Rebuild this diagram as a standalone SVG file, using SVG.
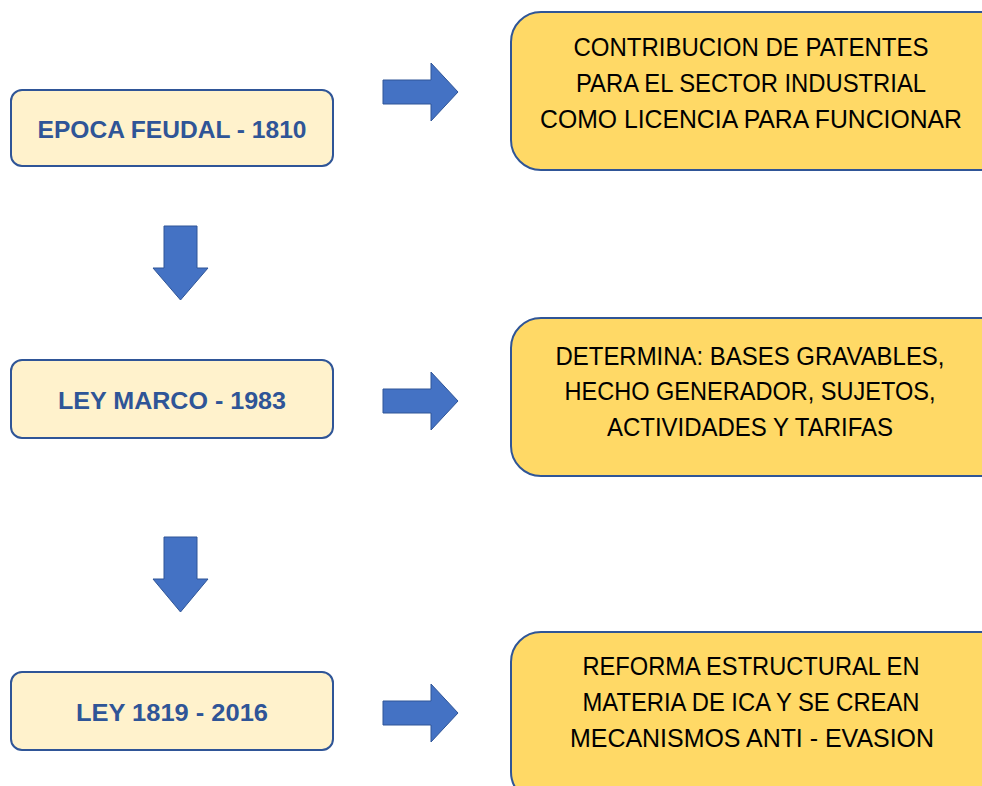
<svg xmlns="http://www.w3.org/2000/svg" width="982" height="786" viewBox="0 0 982 786">
<defs>
<style>
.lbox{fill:#fff2cc;stroke:#2f5597;stroke-width:2}
.rbox{fill:#ffd966;stroke:#2f5597;stroke-width:2}
.arr{fill:#4472c4;stroke:#2f5597;stroke-width:1}
.lt{font-family:"Liberation Sans",Arial,sans-serif;font-weight:bold;font-size:24px;fill:#2f5597;text-anchor:middle;dominant-baseline:central}
.rt{font-family:"Liberation Sans",Arial,sans-serif;font-size:25px;fill:#000;text-anchor:middle;dominant-baseline:central}
</style>
</defs>
<rect width="982" height="786" fill="#fff"/>
<g id="n1"><rect class="lbox" x="11" y="90" width="322" height="76" rx="11"/><text class="lt" x="172" y="129" textLength="269" lengthAdjust="spacingAndGlyphs">EPOCA FEUDAL - 1810</text></g>
<g id="n2"><rect class="lbox" x="11" y="360" width="322" height="78" rx="11"/><text class="lt" x="172" y="400" textLength="228" lengthAdjust="spacingAndGlyphs">LEY MARCO - 1983</text></g>
<g id="n3"><rect class="lbox" x="11" y="672" width="322" height="78" rx="11"/><text class="lt" x="172" y="712" textLength="192" lengthAdjust="spacingAndGlyphs">LEY 1819 - 2016</text></g>
<g id="r1"><rect class="rbox" x="511" y="12" width="500" height="158" rx="30"/>
<text class="rt" x="751" y="47" textLength="355" lengthAdjust="spacingAndGlyphs">CONTRIBUCION DE PATENTES</text>
<text class="rt" x="751" y="83" textLength="350" lengthAdjust="spacingAndGlyphs">PARA EL SECTOR INDUSTRIAL</text>
<text class="rt" x="751" y="119" textLength="422" lengthAdjust="spacingAndGlyphs">COMO LICENCIA PARA FUNCIONAR</text></g>
<g id="r2"><rect class="rbox" x="511" y="318" width="500" height="158" rx="30"/>
<text class="rt" x="750" y="356" textLength="389" lengthAdjust="spacingAndGlyphs">DETERMINA: BASES GRAVABLES,</text>
<text class="rt" x="750" y="391" textLength="371" lengthAdjust="spacingAndGlyphs">HECHO GENERADOR, SUJETOS,</text>
<text class="rt" x="750" y="427" textLength="286" lengthAdjust="spacingAndGlyphs">ACTIVIDADES Y TARIFAS</text></g>
<g id="r3"><rect class="rbox" x="511" y="632" width="500" height="170" rx="30"/>
<text class="rt" x="751" y="666" textLength="337" lengthAdjust="spacingAndGlyphs">REFORMA ESTRUCTURAL EN</text>
<text class="rt" x="751" y="702" textLength="337" lengthAdjust="spacingAndGlyphs">MATERIA DE ICA Y SE CREAN</text>
<text class="rt" x="752" y="738" textLength="364" lengthAdjust="spacingAndGlyphs">MECANISMOS ANTI - EVASION</text></g>
<g id="connectors">
<path class="arr" d="M383,80 H431 V63 L458,92 L431,121 V104 H383 Z"/>
<path class="arr" d="M383,389 H431 V372 L458,401 L431,430 V413 H383 Z"/>
<path class="arr" d="M383,701 H431 V684 L458,713 L431,742 V725 H383 Z"/>
<path class="arr" d="M164,226 H197 V268 H208 L180.5,300 L153,268 H164 Z"/>
<path class="arr" d="M164,537 H197 V579 H208 L180.5,612 L153,579 H164 Z"/>
</g>
</svg>
